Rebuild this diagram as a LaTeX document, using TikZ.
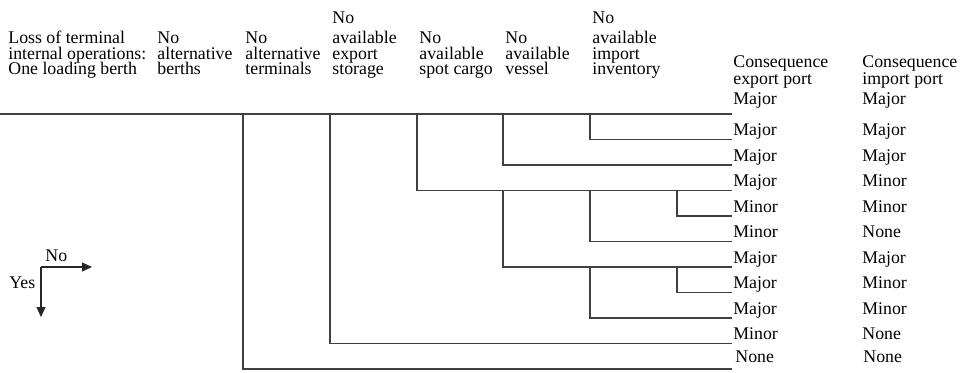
\documentclass[tikz,border=0pt]{standalone}
\usepackage{fontspec}
\setmainfont{Liberation Serif}
\usepackage{tikz}
\usetikzlibrary{arrows.meta}

\newcommand\treefont{\fontsize{8.9}{7.7}\selectfont\setlength{\lineskiplimit}{-5pt}}

\begin{document}
\begin{tikzpicture}[
  x=0.5pt,
  y=-0.5pt,
  font=\treefont,
  tree/.style={draw=black!75, line width=0.6pt},
  hdr/.style={anchor=south west, align=left, inner sep=0pt, text depth=0pt},
  res/.style={anchor=base west, inner sep=0pt},
  legend/.style={draw=black!85, line width=0.6pt, -{Triangle[length=5pt,width=4.5pt]}}
]
  \useasboundingbox (0,0) rectangle (966,372);

  % column headers
  \node[hdr] (loss) at (8,75) {Loss of terminal\\internal operations:\\One loading berth};
  \node[hdr] (berths) at (157,75) {No\\alternative\\berths};
  \node[hdr] (terminals) at (245,75) {No\\alternative\\terminals};
  \node[hdr] (storage) at (332,75) {No\\[2.5pt]available\\export\\storage};
  \node[hdr] (cargo) at (419,75) {No\\available\\spot cargo};
  \node[hdr] (vessel) at (505,75) {No\\available\\vessel};
  \node[hdr] (inventory) at (592,75) {No\\[2.5pt]available\\import\\inventory};
  \node[hdr] (cexp) at (733,85) {Consequence\\[1pt]export port};
  \node[hdr] (cimp) at (862,85) {Consequence\\[1pt]import port};

  % branch columns and outcome ends
  \coordinate (c3) at (243,0);
  \coordinate (c4) at (330,0);
  \coordinate (c5) at (417,0);
  \coordinate (c6) at (503,0);
  \coordinate (c7) at (590,0);
  \coordinate (c8) at (677,0);
  \foreach \i in {1,...,11}
    \coordinate (e\i) at (732,{114+25.5*(\i-1)});

  % event tree
  \draw[tree] (0,114) -- (e1);
  \draw[tree] (c7 |- e1) |- (e2);
  \draw[tree] (c6 |- e1) |- (e3);
  \draw[tree] (c5 |- e1) |- (e4);
  \draw[tree] (c8 |- e4) |- (e5);
  \draw[tree] (c7 |- e4) |- (e6);
  \draw[tree] (c6 |- e4) |- (e7);
  \draw[tree] (c8 |- e7) |- (e8);
  \draw[tree] (c7 |- e7) |- (e9);
  \draw[tree] (c4 |- e1) |- (e10);
  \draw[tree] (c3 |- e1) |- (e11);

  % consequences
  \node[res] (ex1) at (733,104) {Major};
  \node[res] (im1) at (862,104) {Major};
  \foreach \i/\ex/\im in {2/Major/Major, 3/Major/Major,
      4/Major/Minor, 5/Minor/Minor, 6/Minor/None, 7/Major/Major,
      8/Major/Minor, 9/Major/Minor, 10/Minor/None} {
    \node[res] (ex\i) at ([xshift=0.5pt, yshift=4*0.5pt]e\i) {\ex};
    \node[res] (im\i) at ([xshift=130*0.5pt, yshift=4*0.5pt]e\i) {\im};
  }
  \node[res] (ex11) at (735,362) {None};
  \node[res] (im11) at (863,362) {None};

  % legend
  \coordinate (lg) at (41,267);
  \coordinate (lgno) at (92,267);
  \coordinate (lgyes) at (41,317);
  \draw[legend] (lg) -- (lgno);
  \draw[legend] (lg) -- (lgyes);
  \node[res] (no) at (45,261.5) {No};
  \node[res] (yes) at (9,288) {Yes};
\end{tikzpicture}
\end{document}
